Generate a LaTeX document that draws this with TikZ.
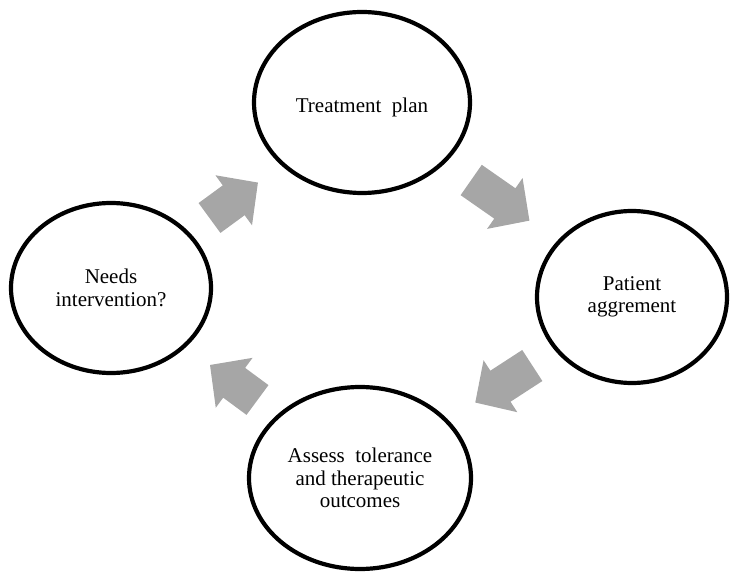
\documentclass[tikz,border=0pt]{standalone}
\usepackage{fontspec}
\setmainfont{Liberation Serif}
\newfontfamily\stagefont{Liberation Serif}
\usetikzlibrary{shapes.geometric}
\definecolor{arrowgray}{RGB}{166,166,166}
\tikzset{
  stage/.style={ellipse, draw=black, line width=4.2pt, inner sep=0pt, align=center,
    font=\stagefont\fontsize{21}{22.5}\selectfont},
  blockarrow/.style={fill=arrowgray, draw=none}
}
\newcommand{\blockarr}[4]{% x, y, angle, length
  \fill[blockarrow, shift={(#1,#2)}, rotate=#3]
    (0,-18.5) -- (#4-30,-18.5) -- (#4-30,-31) -- (#4,0) -- (#4-30,31) -- (#4-30,18.5) -- (0,18.5) -- cycle;
}
\begin{document}
\begin{tikzpicture}[x=1pt,y=1pt]
\useasboundingbox (0,0) rectangle (733,571);
\node[stage, minimum width=216pt, minimum height=181pt] (plan) at (362,468.5) {\smash{\raisebox{-10pt}{Treatment\ \ plan}}};
\node[stage, minimum width=200pt, minimum height=170pt] (needs) at (111,283) {Needs\\intervention?};
\node[stage, minimum width=190pt, minimum height=172pt] (agree) at (632,274) {Patient\\aggrement};
\node[stage, minimum width=222pt, minimum height=182pt] (assess) at (360,93) {Assess\ \ tolerance\\and therapeutic\\outcomes};
\blockarr{209.5}{353}{36.2}{60}
\blockarr{471.2}{391}{-34.9}{71}
\blockarr{532.3}{205.5}{213}{68}
\blockarr{257.5}{171}{143.6}{59}
\end{tikzpicture}
\end{document}
